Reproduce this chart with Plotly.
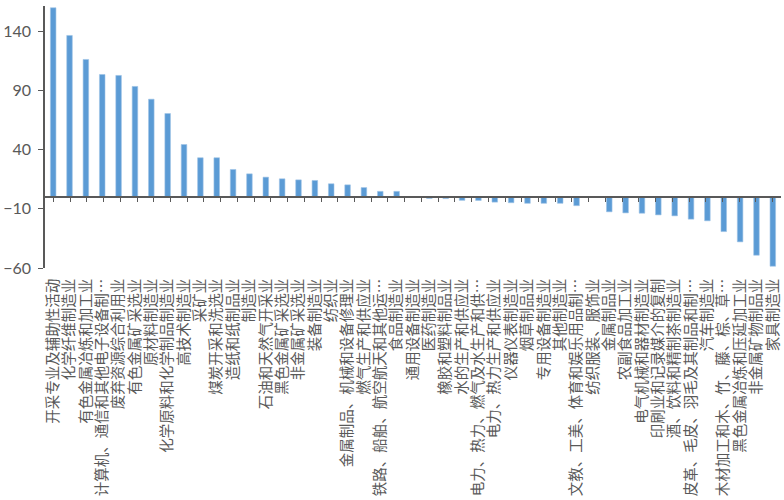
import plotly.graph_objects as go

# 行业名称(按图中从左到右)
industries = [
    "开采专业及辅助性活动", "化学纤维制造业", "有色金属冶炼和加工业",
    "计算机、通信和其他电子设备制…", "废弃资源综合利用业", "有色金属矿采选业",
    "原材料制造业", "化学原料和化学制品制造业", "高技术制造业", "采矿业",
    "煤炭开采和洗选业", "造纸和纸制品业", "制造业", "石油和天然气开采业",
    "黑色金属矿采选业", "非金属矿采选业", "装备制造业", "纺织业",
    "金属制品、机械和设备修理业", "燃气生产和供应业", "铁路、船舶、航空航天和其他运…",
    "食品制造业", "通用设备制造业", "医药制造业", "橡胶和塑料制品业",
    "水的生产和供应业", "电力、热力、燃气及水生产和供…", "电力、热力生产和供应业",
    "仪器仪表制造业", "烟草制品业", "专用设备制造业", "其他制造业",
    "文教、工美、体育和娱乐用品制…", "纺织服装、服饰业", "金属制品业",
    "农副食品加工业", "电气机械和器材制造业", "印刷业和记录媒介的复制",
    "酒、饮料和精制茶制造业", "皮革、毛皮、羽毛及其制品和制…", "汽车制造业",
    "木材加工和木、竹、藤、棕、草…", "黑色金属冶炼和压延加工业", "非金属矿物制品业",
    "家具制造业",
]

# 数值
values = [
    160, 136.6, 116.3, 103.6, 102.8, 93.5, 82.7, 70.6, 44.4, 33.2,
    33.2, 23.3, 19.6, 16.8, 15.4, 14.5, 14.0, 11.2, 10.3, 8.0,
    4.8, 4.8, 0.1, -1.2, -1.3, -2.8, -2.9, -4.3, -4.8, -5.3,
    -5.3, -5.3, -7.3, -0.1, -12.5, -13.4, -13.7, -15.1, -15.9, -18.7,
    -20.1, -29.2, -37.9, -49.2, -58.5,
]

y_min, y_max = -60, 161.5
axis_grey = "#595959"

fig = go.Figure()
fig.add_trace(go.Bar(
    x=industries, y=values,
    marker=dict(color="#5B9BD5", line=dict(color="#9DC3E6", width=0.6)),
    showlegend=False,
))
# helper trace so the zero axis (xaxis2) knows the categories
fig.add_trace(go.Scatter(
    x=industries, y=[0] * len(industries), xaxis="x2",
    mode="none", showlegend=False, hoverinfo="skip",
))

fig.update_layout(
    width=784, height=500,
    margin=dict(l=45, r=3, t=6, b=232),
    plot_bgcolor="white", paper_bgcolor="white",
    bargap=0.66,
    xaxis=dict(
        type="category", tickmode="array", tickvals=industries, ticktext=industries,
        tickangle=-90, showline=False, showgrid=False, automargin=False,
        # invisible ticks just push the labels a little below the plot
        ticks="outside", ticklen=4, tickcolor="rgba(0,0,0,0)",
        tickfont=dict(family="Noto Sans CJK SC", size=14.5, color=axis_grey),
    ),
    xaxis2=dict(
        type="category", overlaying="x", anchor="free", automargin=False,
        position=(0 - y_min) / (y_max - y_min),
        showline=True, linecolor=axis_grey, linewidth=1.5,
        ticks="outside", tickson="boundaries", ticklen=4, tickcolor=axis_grey,
        showticklabels=False, showgrid=False,
    ),
    yaxis=dict(
        range=[y_min, y_max], tick0=-60, dtick=50, automargin=False,
        showline=True, linecolor=axis_grey, linewidth=1.5,
        ticks="outside", ticklen=5, tickcolor=axis_grey,
        showgrid=False, zeroline=False,
        tickfont=dict(family="Lato", size=16, color=axis_grey),
        ticklabelstandoff=4,
    ),
)

# page body has a default 8px margin; drop it so the figure fills the window
fig.write_html("out.html", config={"displayModeBar": False},
               post_script="document.body.style.margin='0';")
